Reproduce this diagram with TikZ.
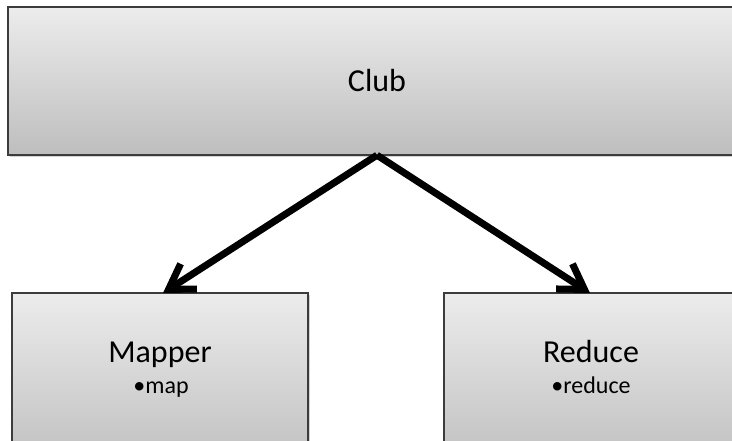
\documentclass[tikz,border=0pt]{standalone}
\usepackage{fontspec}
\setmainfont{Carlito}
\usetikzlibrary{arrows.meta,shadows}
\definecolor{boxtop}{RGB}{236,236,236}
\definecolor{boxbot}{RGB}{190,190,190}
\definecolor{boxline}{RGB}{60,60,60}
\tikzset{
  panel/.style={draw=boxline, line width=1.3pt, top color=boxtop, bottom color=boxbot,
    drop shadow={shadow xshift=2pt, shadow yshift=-2pt, opacity=0.35, fill=gray}},
  title/.style={anchor=base, font=\fontsize{32}{38}\selectfont, text=black},
  item/.style={anchor=base, font=\fontsize{24}{28}\selectfont, text=black},
  link/.style={line width=7pt, -{Straight Barb[length=24pt, width=30pt, line width=7pt]}}
}
\begin{document}
\begin{tikzpicture}[x=1pt,y=-1pt]
\useasboundingbox (0,0) rectangle (732,441);
\clip (0,0) rectangle (732,441);
\path[panel] (8,7) rectangle (746,155);
\node[inner sep=0pt, minimum width=738pt, minimum height=148pt] (club) at (377,81) {};
\path[panel] (12,293) rectangle (308,470);
\node[inner sep=0pt, minimum width=296pt, minimum height=1pt, anchor=north] (mapper) at (163,293) {};
\path[panel] (444,293) rectangle (738,470);
\node[inner sep=0pt, minimum width=294pt, minimum height=1pt, anchor=north] (reduce) at (590,293) {};
\node[title] (clubt) at (377,92) {Club};
\node[title] (mappert) at (160,362) {Mapper};
\node[item] (mapi) at (161,393) {•map};
\node[title] (reducet) at (591,362) {Reduce};
\node[item] (reducei) at (591,393) {•reduce};
\draw[link] (club.south) -- (mapper.north);
\draw[link] (club.south) -- (reduce.north);
\end{tikzpicture}
\end{document}
